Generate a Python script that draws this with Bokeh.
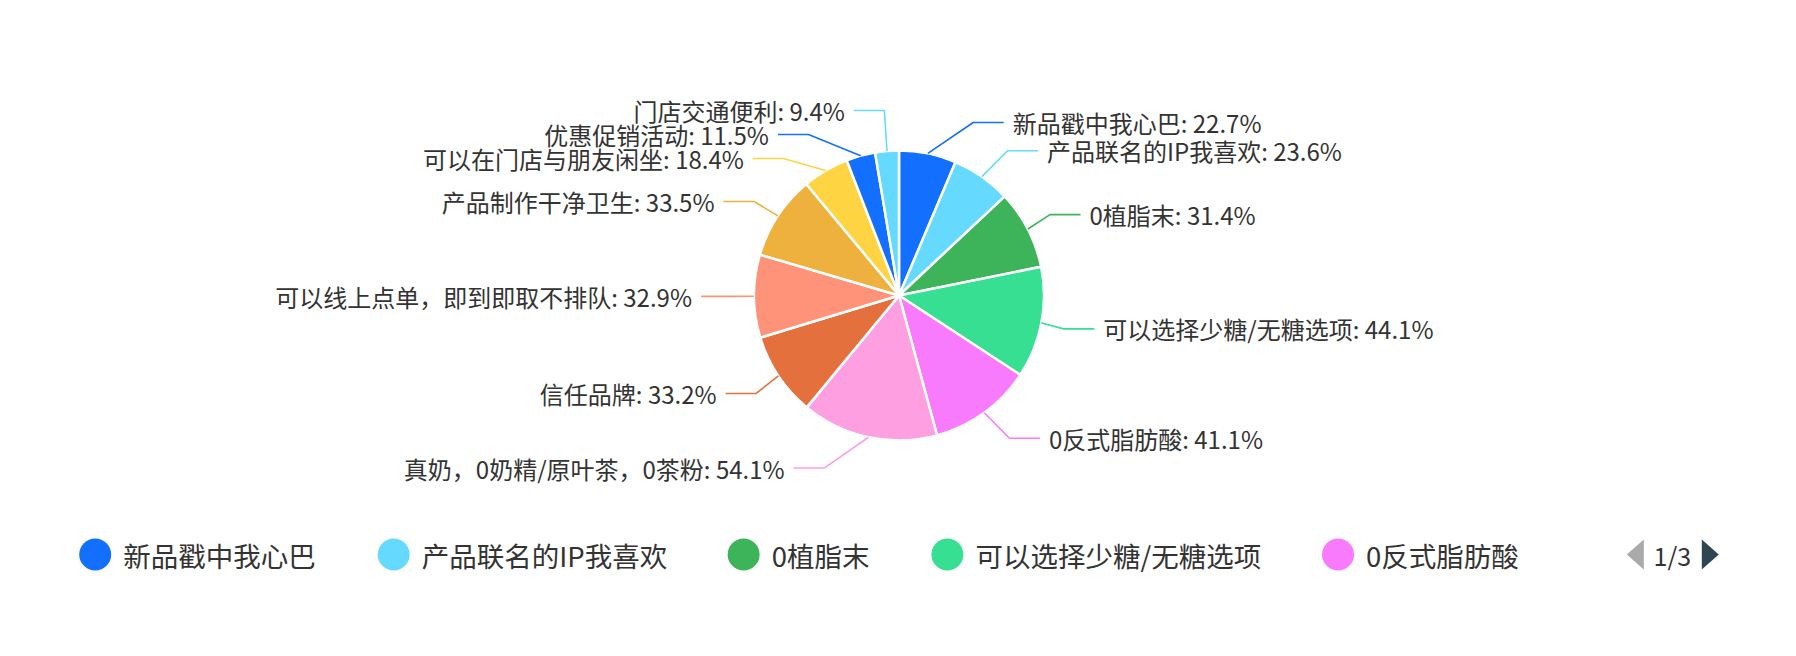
import math

import numpy as np
from bokeh.core.properties import value
from bokeh.embed import file_html
from bokeh.models import ColumnDataSource, Range1d
from bokeh.plotting import figure
from bokeh.resources import INLINE

# Datos: porcentaje de encuestados que eligieron cada motivo (respuesta múltiple)
names = [
    "新品戳中我心巴",
    "产品联名的IP我喜欢",
    "0植脂末",
    "可以选择少糖/无糖选项",
    "0反式脂肪酸",
    "真奶，0奶精/原叶茶，0茶粉",
    "信任品牌",
    "可以线上点单，即到即取不排队",
    "产品制作干净卫生",
    "可以在门店与朋友闲坐",
    "优惠促销活动",
    "门店交通便利",
]
pcts = [22.7, 23.6, 31.4, 44.1, 41.1, 54.1, 33.2, 32.9, 33.5, 18.4, 11.5, 9.4]
palette = ["#1370ff", "#66d9ff", "#3db35a", "#36df91", "#f97bfd",
           "#fd9fe0", "#e4703e", "#ff937a", "#eeb13d", "#ffd442"]
legend_page = "1/3"
legend_per_page = 5

colors = [palette[i % len(palette)] for i in range(len(names))]

# Geometría (píxeles de la captura, y hacia abajo)
W, H = 1780, 640
CX, CY, R = 898.5, 295.0, 145.0
LEN1, LEN2, GAP, LABEL_H = 31.5, 30.5, 9.0, 24.0
FONT = "Noto Sans CJK SC"
TEXT_COLOR = "#333333"

total = sum(pcts)
cum = np.cumsum([0.0] + pcts)
a0 = cum[:-1] / total * 2 * math.pi
a1 = cum[1:] / total * 2 * math.pi
mid = (a0 + a1) / 2

# Etiquetas exteriores con el reparto de echarts
items = []
for i, m in enumerate(mid):
    dx, dy = math.sin(m), -math.cos(m)
    side = 1 if dx >= 0 else -1
    x1, y1 = CX + R * dx, CY + R * dy
    x2, y2 = x1 + LEN1 * dx, y1 + LEN1 * dy
    x3 = x2 + side * LEN2
    items.append({"i": i, "side": side, "p1": (x1, y1), "x": x3 + side * GAP, "y": y2})


def adjust_side(lst, side):
    lst.sort(key=lambda it: it["y"])
    n = len(lst)

    def shift_up(end, delta):
        for j in range(end, -1, -1):
            lst[j]["y"] -= delta
            if j > 0 and lst[j]["y"] > lst[j - 1]["y"] + LABEL_H:
                break

    def shift_down(start, end, delta):
        for j in range(start, end):
            lst[j]["y"] += delta
            if j > start and j + 1 < end and lst[j + 1]["y"] > lst[j]["y"] + LABEL_H:
                shift_up(j, delta / 2)
                return
        shift_up(end - 1, delta / 2)

    last_y = 0
    for k in range(n):
        delta = lst[k]["y"] - last_y
        if delta < 0:
            shift_down(k, n, -delta)
        last_y = lst[k]["y"] + LABEL_H

    r_text = R + LEN1 + LEN2
    for down in (False, True):
        part = [it for it in lst if (it["y"] >= CY) == down]
        last_dx = 1e9 if down else 0
        for it in part:
            ddy = abs(it["y"] - CY)
            if ddy < R + LEN1:
                ddx = math.sqrt(r_text ** 2 - ddy ** 2)
            else:
                ddx = abs(it["x"] - CX)
            if down and ddx >= last_dx:
                ddx = last_dx - 10
            if not down and ddx <= last_dx:
                ddx = last_dx + 10
            it["x"] = CX + ddx * side
            last_dx = ddx


adjust_side([it for it in items if it["side"] > 0], 1)
adjust_side([it for it in items if it["side"] < 0], -1)
items.sort(key=lambda it: it["i"])

line_xs, line_ys = [], []
for it in items:
    x3 = it["x"] - it["side"] * GAP
    x2 = x3 - it["side"] * LEN2
    line_xs.append([it["p1"][0], x2, x3])
    line_ys.append([-it["p1"][1], -it["y"], -it["y"]])

p = figure(
    width=W, height=H,
    x_range=Range1d(0, W), y_range=Range1d(-H, 0),
    x_axis_location=None, y_axis_location=None,
    toolbar_location=None, output_backend="svg", min_border=0,
)
p.grid.visible = False
p.outline_line_color = None
p.background_fill_color = "white"

pie = ColumnDataSource(dict(
    start=math.pi / 2 - a1, end=math.pi / 2 - a0, color=colors,
))
p.wedge(x=CX, y=-CY, radius=R, start_angle="start", end_angle="end",
        fill_color="color", line_color="white", line_width=2.5, source=pie)

p.multi_line(xs=line_xs, ys=line_ys, line_color=colors, line_width=1.6)

for side, align in ((1, "left"), (-1, "right")):
    sel = [it for it in items if it["side"] == side]
    src = ColumnDataSource(dict(
        x=[it["x"] for it in sel],
        y=[-it["y"] for it in sel],
        t=[f"{names[it['i']]}: {pcts[it['i']]}%" for it in sel],
    ))
    p.text(x="x", y="y", text="t", source=src, text_align=align, text_baseline="middle",
           text_font=value(FONT), text_font_size="24px", text_color=TEXT_COLOR)


# Leyenda paginada (primera página)
def text_width(s, fs):
    w = 0.0
    for ch in s:
        if ord(ch) > 0x2E80:
            w += fs
        elif ch in "Ii":
            w += 0.27 * fs
        elif ch == "/":
            w += 0.35 * fs
        elif ch.isdigit():
            w += 0.555 * fs
        else:
            w += 0.6 * fs
    return w


LEG_FS, LEG_Y, MARK_D, TXT_OFF, ITEM_GAP = 27.5, 554.0, 32, 44, 62
page_names = names[:legend_per_page]
widths = [TXT_OFF + text_width(n, LEG_FS) for n in page_names]
pager_gap, pager_w = 108, 92
total_w = sum(widths) + ITEM_GAP * (len(widths) - 1) + pager_gap + pager_w
x = CX - total_w / 2
mark_x, text_x = [], []
for w in widths:
    mark_x.append(x + MARK_D / 2)
    text_x.append(x + TXT_OFF)
    x += w + ITEM_GAP
pager_x = x - ITEM_GAP + pager_gap

leg = ColumnDataSource(dict(mx=mark_x, tx=text_x, y=[-LEG_Y] * len(page_names),
                            t=page_names, c=colors[:legend_per_page]))
p.scatter(x="mx", y="y", source=leg, marker="circle", size=MARK_D,
          fill_color="c", line_color=None)
p.text(x="tx", y="y", text="t", source=leg, text_align="left", text_baseline="middle",
       text_font=value(FONT), text_font_size=f"{LEG_FS}px", text_color=TEXT_COLOR)

# Flechas y contador de página
ty = -LEG_Y
p.patch([pager_x + 17, pager_x + 17, pager_x], [ty + 15, ty - 15, ty],
        fill_color="#aaaaaa", line_color=None)
p.patch([pager_x + 75, pager_x + 75, pager_x + 92], [ty + 15, ty - 15, ty],
        fill_color="#2f4554", line_color=None)
p.text(x=[pager_x + 45.5], y=[ty], text=[legend_page], text_align="center",
       text_baseline="middle", text_font=value(FONT), text_font_size="25px",
       text_color=TEXT_COLOR)

open("out.html", "w").write(file_html(p, INLINE))
